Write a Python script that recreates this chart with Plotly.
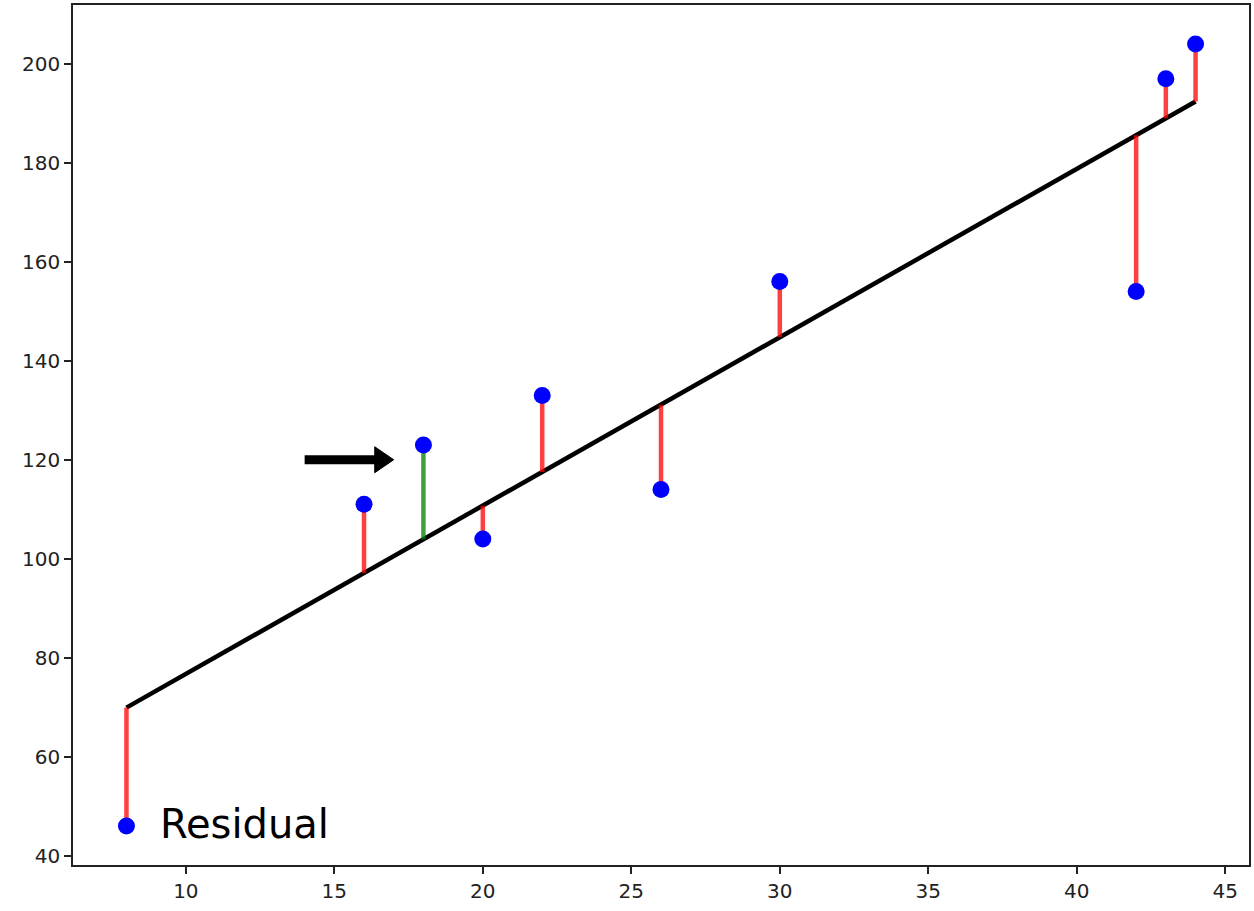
import plotly.graph_objects as go

# Data
x_vals = [8, 16, 18, 20, 22, 26, 30, 42, 43, 44]
y_vals = [46, 111, 123, 104, 133, 114, 156, 154, 197, 204]
# Regression-line values at each x
y_fit = [69.9, 97.1, 103.9, 110.7, 117.5, 131.1, 144.8, 185.6, 189.0, 192.4]
highlight_index = 2  # the residual drawn in green (x = 18)

# Arrow and label
arrow_start = (14, 120)
arrow_tip = (17, 120)
arrow_head_len = 0.64
arrow_head_half = 2.62
label_text = "Residual"
label_pos = (9.05, 46.3)

x_ticks = [10, 15, 20, 25, 30, 35, 40, 45]
y_ticks = [40, 60, 80, 100, 120, 140, 160, 180, 200]

RED = "rgba(255,0,0,0.75)"
GREEN = "rgba(0,128,0,0.75)"

fig = go.Figure()

# regression line
fig.add_trace(go.Scatter(x=[x_vals[0], x_vals[-1]], y=[y_fit[0], y_fit[-1]],
                         mode="lines", line=dict(color="black", width=4.5),
                         showlegend=False, hoverinfo="skip"))

# residual lines
for i, (xv, yv, yf) in enumerate(zip(x_vals, y_vals, y_fit)):
    fig.add_trace(go.Scatter(x=[xv, xv], y=[yf, yv], mode="lines",
                             line=dict(color=GREEN if i == highlight_index else RED, width=4.5),
                             showlegend=False, hoverinfo="skip"))

# data points
fig.add_trace(go.Scatter(x=x_vals, y=y_vals, mode="markers",
                         marker=dict(color="blue", size=17, line=dict(width=0)),
                         showlegend=False))

# arrow shaft and head
base_x = arrow_tip[0] - arrow_head_len
fig.add_shape(type="line", x0=arrow_start[0], y0=arrow_start[1], x1=base_x + 0.05, y1=arrow_tip[1],
              xref="x", yref="y", line=dict(color="black", width=9))
path = (f"M {base_x},{arrow_tip[1] - arrow_head_half} L {arrow_tip[0]},{arrow_tip[1]} "
        f"L {base_x},{arrow_tip[1] + arrow_head_half} Z")
fig.add_shape(type="path", path=path, xref="x", yref="y",
              fillcolor="black", line=dict(color="black", width=1))

fig.add_annotation(x=label_pos[0], y=label_pos[1], text=label_text, showarrow=False,
                   xanchor="left", yanchor="middle", xref="x", yref="y",
                   font=dict(family="DejaVu Sans", size=40, color="black"))

axis_common = dict(showgrid=False, zeroline=False, showline=True, mirror=True,
                   linecolor="#222", linewidth=1.6, ticks="outside", ticklen=7,
                   tickwidth=1.6, tickcolor="#222",
                   tickfont=dict(family="DejaVu Sans", size=20, color="#222"))

fig.update_xaxes(range=[6.2, 45.8], tickvals=x_ticks, **axis_common)
fig.update_yaxes(range=[38.1, 211.9], tickvals=y_ticks, **axis_common)

fig.update_layout(width=1254, height=911, plot_bgcolor="white", paper_bgcolor="white",
                  margin=dict(l=73, r=4, t=3, b=46), showlegend=False)

fig.write_html("out.html")
